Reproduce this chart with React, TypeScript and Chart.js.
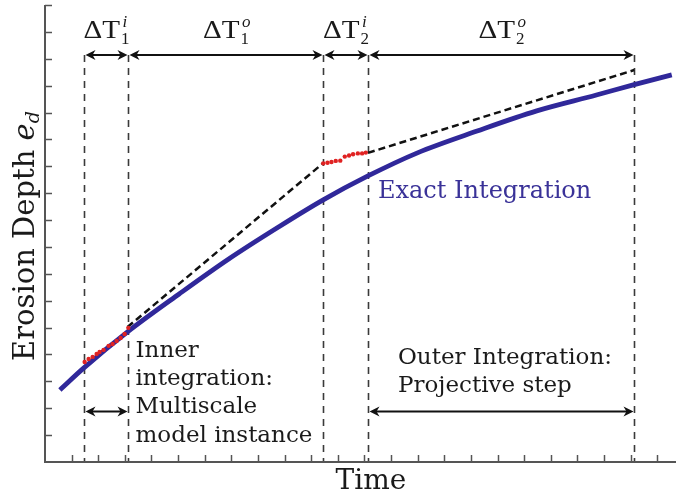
import React, { useEffect, useRef } from 'react';
import { Chart, registerables } from 'chart.js';

Chart.register(...registerables);

// ---- data (time in tick units, erosion depth in tick units) ----
const exactTime = [0.56, 1.46, 3.10, 5.04, 6.90, 8.77, 10.45, 12.13, 13.99, 16.23, 18.47, 20.71, 22.13, 23.54];
const exactDepth = [2.68, 3.50, 4.84, 6.25, 7.55, 8.74, 9.75, 10.64, 11.50, 12.31, 13.06, 13.65, 14.04, 14.40];

const inner1Time = [1.49, 1.64, 1.79, 1.94, 2.05, 2.20, 2.39, 2.54, 2.69, 2.84, 2.99, 3.13];
const inner1Depth = [3.72, 3.83, 3.91, 4.02, 4.09, 4.17, 4.32, 4.39, 4.50, 4.61, 4.76, 4.99];

const inner2Time = [10.45, 10.61, 10.76, 10.92, 11.09, 11.26, 11.42, 11.57, 11.75, 11.91, 12.05];
const inner2Depth = [11.11, 11.13, 11.16, 11.20, 11.21, 11.36, 11.40, 11.45, 11.48, 11.48, 11.51];

const proj1Time = [3.10, 10.45];
const proj1Depth = [5.02, 11.12];
const proj2Time = [12.13, 22.13];
const proj2Depth = [11.50, 14.58];

const stepTimes = [1.45, 3.10, 10.45, 12.13, 22.13];
const topArrowDepth = 15.14;
const bottomArrowDepth = 1.88;

const xMax = 23.7;
const yMax = 17;

const pts = (xs: number[], ys: number[]) => xs.map((x, i) => ({ x, y: ys[i] }));

const BLUE = '#30289a';
const INK = '#1a1a1a';

function arrowHead(ctx: CanvasRenderingContext2D, tipX: number, y: number, dir: number) {
  const len = 10;
  const hw = 5;
  ctx.beginPath();
  ctx.moveTo(tipX, y);
  ctx.lineTo(tipX + dir * len, y - hw);
  ctx.lineTo(tipX + dir * len * 0.7, y);
  ctx.lineTo(tipX + dir * len, y + hw);
  ctx.closePath();
  ctx.fill();
}

function dblArrow(ctx: CanvasRenderingContext2D, x1: number, x2: number, y: number) {
  ctx.save();
  ctx.strokeStyle = '#111';
  ctx.fillStyle = '#111';
  ctx.lineWidth = 2;
  ctx.setLineDash([]);
  ctx.beginPath();
  ctx.moveTo(x1 + 5, y);
  ctx.lineTo(x2 - 5, y);
  ctx.stroke();
  arrowHead(ctx, x1 + 1, y, 1);
  arrowHead(ctx, x2 - 1, y, -1);
  ctx.restore();
}

function deltaT(ctx: CanvasRenderingContext2D, cx: number, base: number, sub: string, sup: string) {
  ctx.save();
  const sx = 1.12;
  const mainFont = '26px "Liberation Serif"';
  const subFont = '17px "Liberation Serif"';
  const supFont = 'italic 17px "Liberation Serif"';
  ctx.font = mainFont;
  const wMain = ctx.measureText('ΔT').width * sx;
  ctx.font = subFont;
  const wSub = ctx.measureText(sub).width;
  ctx.font = supFont;
  const wSup = ctx.measureText(sup).width;
  const total = wMain + 1 + Math.max(wSub, wSup);
  let x = cx - total / 2;
  ctx.fillStyle = INK;
  ctx.textAlign = 'left';
  ctx.textBaseline = 'alphabetic';
  ctx.save();
  ctx.translate(x, base);
  ctx.scale(sx, 1);
  ctx.font = mainFont;
  ctx.fillText('ΔT', 0, 0);
  ctx.restore();
  x += wMain + 1;
  ctx.font = subFont;
  ctx.fillText(sub, x, base + 6);
  ctx.font = supFont;
  ctx.fillText(sup, x + 1.5, base - 11);
  ctx.restore();
}

const decorPlugin = {
  id: 'decor',
  beforeDatasetsDraw(chart: any) {
    const ctx: CanvasRenderingContext2D = chart.ctx;
    const xs = chart.scales.x;
    const ys = chart.scales.y;
    const yTop = ys.getPixelForValue(topArrowDepth);
    const yBot = ys.getPixelForValue(0);
    ctx.save();
    ctx.strokeStyle = '#3a3a3a';
    ctx.lineWidth = 1.6;
    ctx.setLineDash([7, 6]);
    stepTimes.forEach((t) => {
      const px = Math.round(xs.getPixelForValue(t)) + 0.5;
      ctx.beginPath();
      ctx.moveTo(px, yTop);
      ctx.lineTo(px, yBot);
      ctx.stroke();
    });
    ctx.restore();
  },
  afterDraw(chart: any) {
    const ctx: CanvasRenderingContext2D = chart.ctx;
    const xs = chart.scales.x;
    const ys = chart.scales.y;
    const area = chart.chartArea;
    // axes
    ctx.save();
    ctx.strokeStyle = '#555';
    ctx.lineWidth = 2;
    ctx.setLineDash([]);
    ctx.beginPath();
    ctx.moveTo(area.left, area.top);
    ctx.lineTo(area.left, area.bottom);
    ctx.lineTo(area.right, area.bottom);
    ctx.stroke();
    ctx.lineWidth = 1.5;
    for (let v = 1; v <= yMax; v++) {
      const py = Math.round(ys.getPixelForValue(v)) + 0.5;
      ctx.beginPath();
      ctx.moveTo(area.left, py);
      ctx.lineTo(area.left + 7, py);
      ctx.stroke();
    }
    for (let v = 1; v < xMax; v++) {
      const px = Math.round(xs.getPixelForValue(v)) + 0.5;
      ctx.beginPath();
      ctx.moveTo(px, area.bottom);
      ctx.lineTo(px, area.bottom - 7);
      ctx.stroke();
    }
    ctx.restore();

    // arrows
    const sp = stepTimes.map((t) => Math.round(xs.getPixelForValue(t)) + 0.5);
    const yTop = ys.getPixelForValue(topArrowDepth);
    const yB = ys.getPixelForValue(bottomArrowDepth);
    for (let i = 0; i < sp.length - 1; i++) dblArrow(ctx, sp[i], sp[i + 1], yTop);
    dblArrow(ctx, sp[0], sp[1], yB);
    dblArrow(ctx, sp[3], sp[4], yB);

    // delta labels
    deltaT(ctx, (sp[0] + sp[1]) / 2, 38, '1', 'i');
    deltaT(ctx, (sp[1] + sp[2]) / 2, 38, '1', 'o');
    deltaT(ctx, (sp[2] + sp[3]) / 2, 38, '2', 'i');
    deltaT(ctx, (sp[3] + sp[4]) / 2, 38, '2', 'o');

    // annotations
    ctx.save();
    ctx.textAlign = 'left';
    ctx.textBaseline = 'alphabetic';
    ctx.fillStyle = INK;
    ctx.font = '23px "DejaVu Serif"';
    const innerLines = ['Inner', 'integration:', 'Multiscale', 'model instance'];
    innerLines.forEach((s, i) => ctx.fillText(s, sp[1] + 7, 356.5 + i * 28.4));
    ctx.fillText('Outer Integration:', 398, 364);
    ctx.fillText('Projective step', 398, 391.5);
    ctx.fillStyle = '#3a3298';
    ctx.font = '24px "DejaVu Serif"';
    ctx.fillText('Exact Integration', 378, 198);

    // x label
    ctx.fillStyle = INK;
    ctx.textAlign = 'center';
    ctx.font = '28px "DejaVu Serif"';
    ctx.fillText('Time', 371, 489);

    // y label
    ctx.translate(34, 236);
    ctx.rotate(-Math.PI / 2);
    ctx.textAlign = 'left';
    const f1 = '29px "DejaVu Serif"';
    const f2 = 'italic 29px "DejaVu Serif"';
    const f3 = 'italic 19px "DejaVu Serif"';
    ctx.font = f1;
    const w1 = ctx.measureText('Erosion Depth ').width;
    ctx.font = f2;
    const w2 = ctx.measureText('e').width;
    ctx.font = f3;
    const w3 = ctx.measureText('d').width;
    let x0 = -(w1 + w2 + w3) / 2;
    ctx.font = f1;
    ctx.fillText('Erosion Depth ', x0, 0);
    x0 += w1;
    ctx.font = f2;
    ctx.fillText('e', x0, 0);
    x0 += w2;
    ctx.font = f3;
    ctx.fillText('d', x0, 5);
    ctx.restore();
  },
};

export default function App() {
  const ref = useRef<HTMLCanvasElement | null>(null);
  useEffect(() => {
    if (!ref.current) return;
    const chart = new Chart(ref.current, {
      type: 'scatter',
      data: {
        datasets: [
          {
            data: pts(inner1Time, inner1Depth),
            showLine: false,
            pointRadius: 2.2,
            pointBackgroundColor: '#e02222',
            pointBorderWidth: 0,
          },
          {
            data: pts(inner2Time, inner2Depth),
            showLine: false,
            pointRadius: 2.2,
            pointBackgroundColor: '#e02222',
            pointBorderWidth: 0,
          },
          {
            data: pts(proj1Time, proj1Depth),
            showLine: true,
            borderColor: '#111',
            borderWidth: 2.5,
            borderDash: [7, 4],
            pointRadius: 0,
          },
          {
            data: pts(proj2Time, proj2Depth),
            showLine: true,
            borderColor: '#111',
            borderWidth: 2.5,
            borderDash: [7, 4],
            pointRadius: 0,
          },
          {
            data: pts(exactTime, exactDepth),
            showLine: true,
            borderColor: BLUE,
            borderWidth: 4.8,
            cubicInterpolationMode: 'monotone',
            pointRadius: 0,
          },
        ],
      },
      options: {
        responsive: false,
        animation: false,
        devicePixelRatio: 1,
        layout: { padding: { left: 45, right: 0, top: 5, bottom: 36 } },
        scales: {
          x: { type: 'linear', min: 0, max: xMax, display: false },
          y: { type: 'linear', min: 0, max: yMax, display: false },
        },
        plugins: { legend: { display: false }, tooltip: { enabled: false } },
      } as any,
      plugins: [decorPlugin],
    } as any);
    return () => chart.destroy();
  }, []);
  return (
    <div style={{ position: 'fixed', left: 0, top: 0, width: 680, height: 498, background: '#fff' }}>
      <canvas ref={ref} width={680} height={498} style={{ display: 'block' }} />
    </div>
  );
}
